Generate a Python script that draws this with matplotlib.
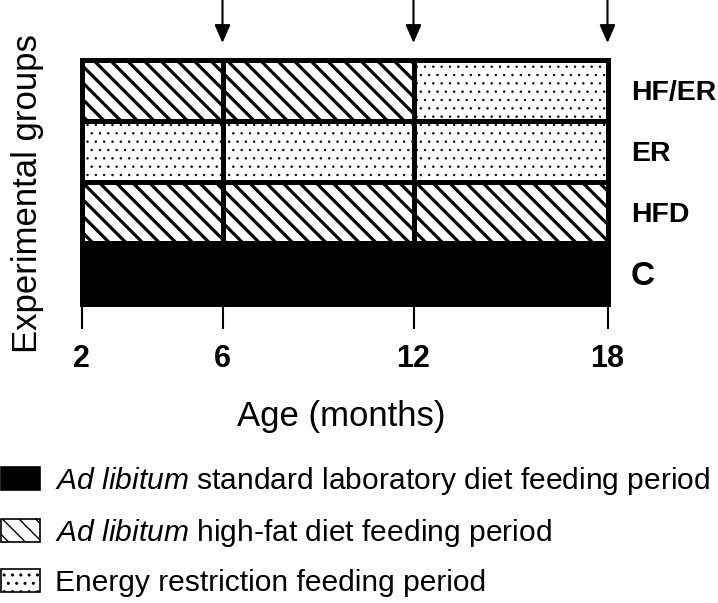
import numpy as np
import matplotlib
matplotlib.use("Agg")
import matplotlib.pyplot as plt
from matplotlib.patches import Patch

plt.rcParams['font.family'] = 'Liberation Sans'
plt.rcParams['mathtext.fontset'] = 'custom'
plt.rcParams['mathtext.rm'] = 'Liberation Sans'
plt.rcParams['mathtext.it'] = 'Liberation Sans:italic'

# groups, bottom row first
groups = ['C', 'HFD', 'ER', 'HF/ER']
ages = [2, 6, 12, 18]
sample_ages = [6, 12, 18]

# feeding regime per period (2-6, 6-12, 12-18)
diet_C = ['std', 'std', 'std']
diet_HFD = ['hf', 'hf', 'hf']
diet_ER = ['er', 'er', 'er']
diet_HFER = ['hf', 'hf', 'er']
schedule = [diet_C, diet_HFD, diet_ER, diet_HFER]

legend_keys = ['std', 'hf', 'er']
legend_labels = [r'$\mathit{Ad\ libitum}$ standard laboratory diet feeding period',
                 r'$\mathit{Ad\ libitum}$ high-fat diet feeding period',
                 'Energy restriction feeding period']

# look of each regime
style = {
    'std': dict(facecolor='black', hatch=None, hlw=1.0),
    'hf': dict(facecolor='white', hatch='\\\\', hlw=2.3),
    'er': dict(facecolor='white', hatch='..', hlw=0.5),
}

# ticks are not evenly spaced in the original, pixel offsets along the box
axis_px = [0, 141, 332, 526]

def fwd(m):
    return np.interp(m, ages, axis_px)

def inv(p):
    return np.interp(p, axis_px, ages)

W, H = 718, 603
fig = plt.figure(figsize=(W / 100, H / 100), dpi=100)
left, right, top, bottom = 81.5, 607.5, 60, 303.5
ax = fig.add_axes([left / W, 1 - bottom / H, (right - left) / W, (bottom - top) / H])
ax.set_xscale('function', functions=(fwd, inv))

def set_hlw(p, lw):
    if hasattr(p, 'set_hatch_linewidth'):
        p.set_hatch_linewidth(lw)

for gi, diets in enumerate(schedule):
    for pi, d in enumerate(diets):
        st = style[d]
        with plt.rc_context({'hatch.linewidth': st['hlw']}):
            bars = ax.barh(gi, ages[pi + 1] - ages[pi], left=ages[pi], height=1,
                           color=st['facecolor'], edgecolor='black', linewidth=3.6,
                           hatch=st['hatch'], zorder=2)
        for b in bars:
            b.set_clip_on(False)
            set_hlw(b, st['hlw'])

ax.set_xlim(ages[0], ages[-1])
ax.set_ylim(-0.5, len(groups) - 0.5)
for s in ax.spines.values():
    s.set_visible(False)

ax.set_xticks(ages)
ax.set_xticklabels([str(a) for a in ages], fontsize=22, fontweight='bold')
ax.tick_params(axis='x', length=18, width=1.5, pad=11, direction='out')

ax.yaxis.tick_right()
ax.set_yticks(range(len(groups)))
ax.set_yticklabels(groups, fontsize=20.5, fontweight='bold')
ax.tick_params(axis='y', length=0, pad=17)
ax.get_yticklabels()[0].set_fontsize(24)

ax.set_ylabel('Experimental groups', fontsize=25)
ax.yaxis.set_label_position('left')
ax.yaxis.set_label_coords((44 - left) / (right - left), (H - 194 - (H - bottom)) / (bottom - top))

ax.set_xlabel('Age (months)', fontsize=25)
ax.xaxis.set_label_coords((341 - left) / (right - left), (H - 400 - (H - bottom)) / (bottom - top))

# sampling arrows
for m in sample_ages:
    ax.annotate('', xy=(m, H - 43), xycoords=('data', 'figure pixels'),
                xytext=(m, H), textcoords=('data', 'figure pixels'),
                arrowprops=dict(arrowstyle='-|>,head_length=0.55,head_width=0.24',
                                color='black', lw=1.5, shrinkA=0, shrinkB=0,
                                mutation_scale=20),
                annotation_clip=False)

handles = []
for k in legend_keys:
    st = style[k]
    with plt.rc_context({'hatch.linewidth': st['hlw']}):
        p = Patch(facecolor=st['facecolor'], edgecolor='black', hatch=st['hatch'], linewidth=1.2)
    set_hlw(p, st['hlw'])
    handles.append(p)

fig.legend(handles, legend_labels, loc='upper left', bbox_to_anchor=(0.001, 1 - 465 / H),
           frameon=False, fontsize=21.6, handlelength=1.3, handleheight=0.8,
           handletextpad=0.5, labelspacing=0.66, borderpad=0, borderaxespad=0)

fig.savefig('out.png', dpi=100)
